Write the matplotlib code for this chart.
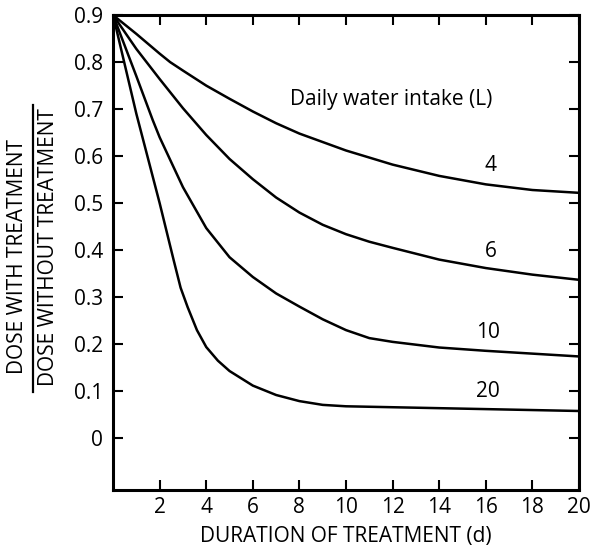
import matplotlib
matplotlib.use('Agg')
import matplotlib.pyplot as plt
from matplotlib.lines import Line2D

# ─── Data ──────────────────────────────────────────────────────────
# Ratio of dose with / without treatment vs. duration of treatment (days),
# one curve per daily water intake (litres)
intake_labels = ['4', '6', '10', '20']

x_4 = [0, 1, 2, 2.45, 3, 4, 5, 6, 7, 8, 9, 10, 11, 12, 14, 16, 18, 20]
y_4 = [0.9, 0.86, 0.818, 0.80, 0.782, 0.75, 0.722, 0.695, 0.67, 0.648,
       0.63, 0.612, 0.597, 0.582, 0.558, 0.54, 0.528, 0.522]

x_6 = [0, 1, 2, 3, 4, 5, 6, 7, 8, 9, 10, 11, 12, 14, 16, 18, 20]
y_6 = [0.9, 0.828, 0.764, 0.702, 0.645, 0.594, 0.551, 0.512, 0.48, 0.454,
       0.434, 0.418, 0.405, 0.38, 0.362, 0.348, 0.337]

x_10 = [0, 1, 1.7, 2, 3, 4, 5, 6, 7, 8, 9, 10, 11, 12, 14, 16, 18, 20]
y_10 = [0.9, 0.77, 0.677, 0.64, 0.534, 0.447, 0.385, 0.343, 0.308, 0.28,
        0.253, 0.23, 0.213, 0.205, 0.193, 0.186, 0.18, 0.174]

x_20 = [0, 1, 2, 2.6, 2.9, 3.2, 3.6, 4, 4.5, 5, 6, 7, 8, 9, 10, 12, 14, 16, 18, 20]
y_20 = [0.9, 0.69, 0.5, 0.379, 0.32, 0.279, 0.23, 0.194, 0.165, 0.143,
        0.112, 0.092, 0.079, 0.071, 0.068, 0.066, 0.064, 0.062, 0.06, 0.058]

# where each curve's intake label sits (x, y)
label_pos = [(16.2, 0.58), (16.2, 0.397), (16.1, 0.226), (16.1, 0.1)]

x_ticks = [2, 4, 6, 8, 10, 12, 14, 16, 18, 20]
y_ticks = [0, 0.1, 0.2, 0.3, 0.4, 0.5, 0.6, 0.7, 0.8, 0.9]
y_ticklabels = ['0', '0.1', '0.2', '0.3', '0.4', '0.5', '0.6', '0.7', '0.8', '0.9']

# ─── Style ─────────────────────────────────────────────────────────
FS = 15
plt.rcParams['font.family'] = ['Open Sans', 'DejaVu Sans']
plt.rcParams['font.size'] = FS

fig = plt.figure(figsize=(5.92, 5.49), dpi=100)
ax = fig.add_axes([0.191, 0.1075, 0.787, 0.865])

for xs, ys in [(x_4, y_4), (x_6, y_6), (x_10, y_10), (x_20, y_20)]:
    ax.plot(xs, ys, color='black', linewidth=1.8, solid_joinstyle='round')

for lab, (lx, ly) in zip(intake_labels, label_pos):
    ax.text(lx, ly, lab, ha='center', va='center', fontsize=FS)

ax.text(7.6, 0.72, 'Daily water intake (L)', ha='left', va='center', fontsize=FS)

ax.set_xlim(0, 20)
ax.set_ylim(-0.11, 0.9)
ax.set_xticks(x_ticks)
ax.set_yticks(y_ticks)
ax.set_yticklabels(y_ticklabels)
ax.tick_params(direction='in', length=7, width=1.5, top=True, right=True,
               labelsize=FS)
ax.tick_params(axis='x', pad=5)
ax.tick_params(axis='y', pad=7)
for sp in ax.spines.values():
    sp.set_linewidth(2.2)

ax.set_xlabel('DURATION OF TREATMENT (d)', fontsize=FS, labelpad=6)

# stacked fraction as the y-axis label
fig.text(0.029, 0.532, 'DOSE WITH TREATMENT', rotation=90, ha='center',
         va='center', fontsize=FS)
fig.text(0.082, 0.550, 'DOSE WITHOUT TREATMENT', rotation=90, ha='center',
         va='center', fontsize=FS)
fig.add_artist(Line2D([0.056, 0.056], [1 - 392 / 549, 1 - 105 / 549],
                      color='black', linewidth=1.6, transform=fig.transFigure))

fig.savefig('out.png', dpi=100)
